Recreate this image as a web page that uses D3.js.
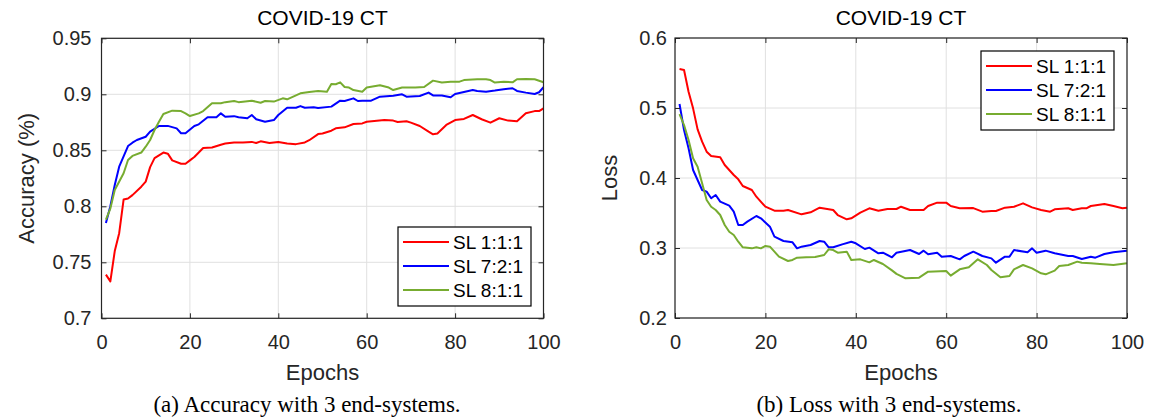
<!DOCTYPE html>
<html>
<head>
<meta charset="utf-8">
<script src="https://cdn.jsdelivr.net/npm/d3@7"></script>
<style>
    body { margin: 0; background: #fff; }
    svg { display: block; }
</style>
</head>
<body>
<div id="chart"></div>
<script>
const epochTicks = [0, 20, 40, 60, 80, 100];
const seriesNames = ["SL 1:1:1", "SL 7:2:1", "SL 8:1:1"];
const seriesColors = ["#ff0000", "#0000ff", "#77ac30"];

const accTicks = [0.7, 0.75, 0.8, 0.85, 0.9, 0.95];
const lossTicks = [0.2, 0.3, 0.4, 0.5, 0.6];

// [epoch, value] pairs
const accSL111 = [[1,.739],[2,.733],[3,.760],[4,.776],[5,.806],[6,.807],[7,.810],[9,.8175],[10,.822],[11,.835],[12,.843],[14,.848],[15,.847],[16,.841],[18,.838],[19,.838],[20,.841],[21,.844],[23,.852],[25,.8525],[27,.855],[28,.856],[30,.857],[32,.857],[34,.8575],[35,.8565],[36,.858],[38,.8565],[40,.8575],[42,.856],[44,.8555],[46,.857],[47,.859],[49,.8645],[50,.865],[52,.8675],[53,.8696],[55,.8705],[57,.8735],[59,.874],[60,.8755],[64,.877],[66,.8765],[67,.8753],[69,.876],[70,.8747],[72,.8717],[74,.8666],[75,.8643],[76,.865],[78,.8726],[80,.877],[82,.878],[84,.8815],[86,.8777],[88,.8747],[90,.8786],[92,.8765],[94,.8759],[96,.883],[98,.885],[99,.885],[100,.8875]];
const accSL721 = [[1,.785],[2,.800],[3,.819],[4,.8354],[6,.8538],[7,.8568],[8,.8592],[10,.8621],[11,.8666],[13,.8717],[15,.8718],[17,.8696],[18,.8652],[19,.8652],[21,.8717],[22,.8732],[24,.8795],[26,.8795],[27,.883],[28,.880],[30,.8805],[31,.8795],[33,.8786],[34,.8815],[35,.8777],[37,.8755],[39,.877],[40,.8815],[42,.888],[44,.888],[45,.8895],[46,.888],[48,.8885],[49,.8878],[52,.889],[54,.8943],[55,.894],[57,.8964],[58,.894],[59,.8943],[61,.8943],[63,.8979],[66,.8988],[68,.900],[69,.8979],[72,.8985],[74,.9015],[75,.899],[77,.899],[79,.8973],[80,.9003],[84,.9038],[85,.903],[87,.9023],[89,.9033],[91,.9045],[93,.9054],[94,.903],[96,.9015],[98,.9003],[99,.9018],[100,.9063]];
const accSL811 = [[1,.788],[2,.798],[3,.8146],[5,.8295],[6,.8413],[7,.845],[9,.848],[10,.8532],[11,.8592],[12,.8681],[13,.8755],[14,.8824],[16,.8854],[18,.885],[19,.883],[20,.8806],[22,.883],[23,.885],[25,.892],[27,.892],[28,.893],[30,.894],[31,.893],[34,.8943],[36,.8925],[37,.894],[39,.8935],[41,.8964],[42,.8955],[45,.9009],[47,.902],[49,.903],[51,.9023],[52,.9092],[53,.909],[54,.9107],[55,.9065],[56,.906],[57,.9038],[59,.9023],[60,.906],[63,.908],[65,.906],[66,.9038],[68,.906],[71,.906],[73,.9065],[75,.9122],[77,.9105],[79,.9113],[81,.9113],[82,.9127],[85,.9134],[87,.9134],[88,.9127],[89,.9105],[91,.9113],[93,.9107],[94,.9134],[96,.9137],[98,.9134],[100,.9107]];

const lossSL111 = [[1,.5557],[2,.5543],[3,.5233],[4,.4995],[5,.4695],[6,.4519],[7,.4376],[8,.4314],[10,.4295],[11,.4186],[13,.4043],[14,.3981],[15,.3886],[17,.3829],[18,.3733],[20,.359],[22,.3533],[24,.3533],[25,.3543],[28,.3481],[30,.351],[32,.3576],[35,.3543],[36,.3471],[38,.341],[39,.3424],[41,.3505],[43,.3567],[45,.3533],[47,.3557],[49,.3557],[50,.359],[52,.3543],[55,.3543],[56,.36],[58,.3648],[60,.3648],[61,.36],[63,.3567],[66,.357],[68,.3519],[70,.3529],[71,.3529],[73,.3576],[75,.359],[77,.3638],[79,.358],[81,.3543],[83,.3519],[84,.3552],[87,.3567],[88,.3543],[90,.3567],[91,.3567],[92,.36],[95,.3629],[97,.36],[99,.3567],[100,.3576]];
const lossSL721 = [[1,.5057],[2,.4686],[3,.4424],[4,.4114],[5,.3971],[6,.3829],[7,.3805],[8,.371],[9,.3757],[10,.3662],[12,.3605],[13,.3519],[14,.3329],[15,.3329],[16,.3376],[18,.3457],[19,.3424],[21,.3305],[22,.3162],[24,.310],[26,.3081],[27,.2995],[28,.3019],[30,.3043],[32,.310],[33,.309],[34,.301],[35,.301],[37,.3052],[39,.309],[40,.3067],[42,.2986],[43,.3005],[45,.2924],[46,.2933],[48,.2867],[49,.2933],[52,.2971],[54,.2914],[55,.2962],[56,.291],[58,.2933],[59,.2876],[61,.2886],[63,.2838],[64,.2886],[66,.2948],[68,.2886],[70,.2852],[71,.279],[73,.2876],[74,.2876],[75,.2971],[78,.2938],[79,.2995],[80,.2933],[82,.2962],[84,.2924],[87,.2886],[88,.2886],[90,.2843],[92,.2876],[93,.2862],[95,.2914],[97,.2938],[100,.2962]];
const lossSL811 = [[1,.4914],[2,.4757],[3,.4543],[4,.4281],[5,.4162],[6,.3924],[7,.3686],[8,.359],[9,.3543],[10,.3471],[11,.3329],[12,.3233],[13,.3186],[14,.309],[15,.301],[17,.2995],[18,.301],[19,.2995],[20,.3029],[21,.3019],[22,.2948],[23,.2876],[25,.2814],[26,.2829],[27,.2862],[29,.2867],[31,.2871],[33,.29],[34,.2981],[35,.2971],[36,.2933],[38,.2948],[39,.2829],[41,.2838],[43,.2795],[44,.2829],[46,.2771],[48,.268],[49,.263],[51,.2567],[54,.2576],[56,.2662],[60,.2671],[61,.2605],[63,.2695],[65,.2724],[67,.2838],[69,.2757],[70,.2686],[72,.2581],[74,.26],[75,.2695],[77,.2757],[79,.2709],[81,.2638],[82,.2624],[84,.2676],[85,.2743],[87,.2757],[89,.2805],[90,.279],[92,.2781],[94,.2771],[97,.2757],[100,.2781]];

const sansFont = "'Liberation Sans', Arial, Helvetica, sans-serif";
const serifFont = "'Liberation Serif', 'Times New Roman', serif";
const axisColor = "#262626";

class LinePanel {
    constructor({root, left, top, width, height, yDomain, yTicks, yPad, title, yLabel, yLabelX, series, legendX, legendY, caption, captionX}) {
        this.root = root;
        this.left = left;
        this.top = top;
        this.width = width;
        this.height = height;
        this.yTicks = yTicks;
        this.yPad = yPad;
        this.title = title;
        this.yLabel = yLabel;
        this.yLabelX = yLabelX;
        this.series = series;
        this.legendX = legendX;
        this.legendY = legendY;
        this.caption = caption;
        this.captionX = captionX;
        this.x = d3.scaleLinear().domain([0, 100]).range([0, width]);
        this.y = d3.scaleLinear().domain(yDomain).range([height, 0]);
    }
    styleAxis(g) {
        g.select(".domain").remove();
        g.selectAll("line").attr("stroke", axisColor).attr("stroke-width", 1);
        g.selectAll("text")
            .attr("fill", axisColor)
            .style("font-family", sansFont)
            .style("font-size", "20px");
    }
    draw() {
        let self = this;
        this.g = this.root.append("g").attr("transform", `translate(${this.left},${this.top})`);

        // grid
        this.g.append("g").selectAll("line").data(epochTicks).join("line")
            .attr("x1", d => self.x(d)).attr("x2", d => self.x(d))
            .attr("y1", 0).attr("y2", this.height)
            .attr("stroke", "#e0e0e0").attr("stroke-width", 1);
        this.g.append("g").selectAll("line").data(this.yTicks).join("line")
            .attr("y1", d => self.y(d)).attr("y2", d => self.y(d))
            .attr("x1", 0).attr("x2", this.width)
            .attr("stroke", "#e0e0e0").attr("stroke-width", 1);

        // lines
        let line = d3.line().x(d => self.x(d[0])).y(d => self.y(d[1]));
        this.g.append("g").selectAll("path").data(this.series).join("path")
            .attr("d", d => line(d.values))
            .attr("fill", "none")
            .attr("stroke", d => d.color)
            .attr("stroke-width", 2)
            .attr("stroke-linejoin", "round");

        // axes, ticks pointing inward on all four sides
        this.g.append("g").attr("transform", `translate(0,${this.height})`)
            .call(d3.axisBottom(this.x).tickValues(epochTicks).tickSize(-5).tickPadding(17))
            .call(g => self.styleAxis(g));
        this.g.append("g")
            .call(d3.axisTop(this.x).tickValues(epochTicks).tickSize(-5).tickFormat(() => ""))
            .call(g => self.styleAxis(g));
        this.g.append("g")
            .call(d3.axisLeft(this.y).tickValues(this.yTicks).tickSize(-5).tickPadding(this.yPad).tickFormat(d => String(d)))
            .call(g => self.styleAxis(g));
        this.g.append("g").attr("transform", `translate(${this.width},0)`)
            .call(d3.axisRight(this.y).tickValues(this.yTicks).tickSize(-5).tickFormat(() => ""))
            .call(g => self.styleAxis(g));
        this.g.append("rect")
            .attr("width", this.width).attr("height", this.height)
            .attr("fill", "none").attr("stroke", axisColor).attr("stroke-width", 1.2);

        // title and labels
        this.g.append("text")
            .attr("x", this.width / 2).attr("y", -13)
            .attr("text-anchor", "middle")
            .attr("fill", "#000")
            .style("font-family", sansFont).style("font-size", "21px")
            .text(this.title);
        this.g.append("text")
            .attr("x", this.width / 2).attr("y", this.height + 62)
            .attr("text-anchor", "middle")
            .attr("fill", axisColor)
            .style("font-family", sansFont).style("font-size", "22px")
            .text("Epochs");
        this.g.append("text")
            .attr("transform", `translate(${this.yLabelX},${this.height / 2}) rotate(-90)`)
            .attr("text-anchor", "middle")
            .attr("fill", axisColor)
            .style("font-family", sansFont).style("font-size", "22px")
            .text(this.yLabel);

        // legend
        let lg = this.g.append("g").attr("transform", `translate(${this.legendX},${this.legendY})`);
        lg.append("rect")
            .attr("width", 133).attr("height", 79)
            .attr("fill", "#fff").attr("stroke", "#000").attr("stroke-width", 1.2);
        let rows = lg.selectAll("g.row").data(this.series).join("g")
            .attr("class", "row")
            .attr("transform", (d, i) => `translate(0,${15 + i * 24})`);
        rows.append("line")
            .attr("x1", 5).attr("x2", 51)
            .attr("stroke", d => d.color).attr("stroke-width", 2);
        rows.append("text")
            .attr("x", 55).attr("dy", "0.35em")
            .attr("fill", "#000")
            .style("font-family", sansFont).style("font-size", "19px")
            .text(d => d.name);

        // caption
        this.root.append("text")
            .attr("x", this.captionX).attr("y", 412)
            .attr("text-anchor", "middle")
            .attr("fill", "#000")
            .style("font-family", serifFont).style("font-size", "23px")
            .text(this.caption);
    }
}

const svg = d3.select("#chart").append("svg")
    .attr("width", 1159).attr("height", 420)
    .style("background", "#fff");

const accSeries = [accSL111, accSL721, accSL811].map((v, i) => ({name: seriesNames[i], color: seriesColors[i], values: v}));
const lossSeries = [lossSL111, lossSL721, lossSL811].map((v, i) => ({name: seriesNames[i], color: seriesColors[i], values: v}));

new LinePanel({
    root: svg, left: 101.5, top: 38.3, width: 442, height: 280,
    yDomain: [0.7, 0.95], yTicks: accTicks, yPad: 10,
    title: "COVID-19 CT", yLabel: "Accuracy (%)", yLabelX: -68,
    series: accSeries, legendX: 296.5, legendY: 188.7,
    caption: "(a) Accuracy with 3 end-systems.", captionX: 307
}).draw();

new LinePanel({
    root: svg, left: 675, top: 38, width: 452, height: 280,
    yDomain: [0.2, 0.6], yTicks: lossTicks, yPad: 8,
    title: "COVID-19 CT", yLabel: "Loss", yLabelX: -58,
    series: lossSeries, legendX: 306, legendY: 13,
    caption: "(b) Loss with 3 end-systems.", captionX: 889
}).draw();
</script>
</body>
</html>
